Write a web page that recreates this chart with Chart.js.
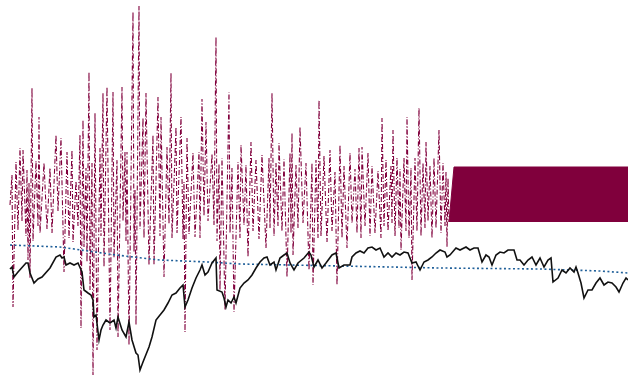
<!DOCTYPE html>
<html>
<head>
<meta charset="utf-8">
<script src="https://cdn.jsdelivr.net/npm/chart.js@4/dist/chart.umd.min.js"></script>
<style>
  html, body { margin: 0; padding: 0; background: #fff; }
  #wrap { width: 628px; height: 375px; }
</style>
</head>
<body>
<div id="wrap"><canvas id="c" width="628" height="375"></canvas></div>
<script>
// Time index (shared by all series) and levels.
const priceT = [5,6,7,9,13,14,15,17,19,21,25,28,30,31,32,33,35,37,39,41,42,44,45.5,46.5,47,48,49.5,50.5,51.5,53,55,57,58,59,61,63,64.5,66,68,69,70,71.5,74.5,76,78,80,82,84,86,88,90,91.5,92.5,94,96,98,100,101,102.5,104,106,108,108.5,111,112,113,114,115.5,117,118,120,122,124,126,128,130,132,133.5,135,137,138,140,142,143.5,145,147,149,152,154.5,155.5,157,159,161,163,166,168,169.5,172,175,176,178,180,182,184,186,188,190,192,194,196,198,200,202,204,206,208,210,212,214,216,218,220,222.5,223.5,225,228,230,233,235,237,239,241,243,244.5,246,248,250,252,254,257,258.5,260,262,264,266,268,270,272,274,275.5,276.5,279,281,283,285,287,288,289,290.5,292,294,296,298,300,302,304,306,308,309.5,311.5,313,314];
const priceV = [21.2,21.6,19.6,20.6,22.4,22.4,20.4,18.4,19.2,19.6,21.4,23.6,24,23.4,23.6,22,22.4,22,22.4,20.6,17,16.4,16,15,11.6,12,7,9,10,11,10.4,11,9.4,11.6,9,7.6,10.6,7,4.4,4,1,2.6,5.6,7.6,11,12,13,14.4,16,16.4,17.4,18,13.6,15,17.4,19.4,21,22,20,20.6,22.4,23.4,17,16.6,15.4,13.6,15,14.4,15.6,14.4,17.4,18.4,19,20,21.4,22.6,23.4,23.6,22,22.6,21,23.4,24,24.4,22.4,21,22.4,23.4,24.6,24,21.6,23,21.4,22.4,24,24.4,21.4,22,22,23.6,24.4,24.8,24.4,25.4,25.6,25,25.4,23.6,24.4,23.6,24.4,24,24.6,24.4,22.4,22.6,21,22.6,23,23.6,24.4,25,24.6,23.6,24,25.4,25,25.6,25,25.4,25.4,22.6,24,23.6,22,24,24.6,24.4,25,25,23,23,22,23,23.6,22,23.4,21.6,23,23.4,18.6,19.4,21,20.4,21.4,20.6,21.6,20.4,18.4,15.4,17,17,18.4,19.4,18,18.6,18.4,17.6,16.6,18.4,19.4,19];

// Long-run trend.
const trendT = [5,30,58,80,104,120,170,220,270,300,314];
const trendV = [26,25.6,24,23,22.6,22.2,21.8,21.4,21.2,20.8,20.4];

// Oscillating indicator.
const oscT = [
  5,6,6.5,8,9,10,11,11.5,13,13.5,14,14.5,15,16,16.5,18,19,19.5,20,22,23.5,25,26,28,29,30.5,32,33.5,34.5,36,
  36.5,38,39,40,40.5,41.5,42,43,43.5,44.5,45,46,46.5,47.5,48.5,50,50.5,51.5,52,53.5,55,56.5,57,58.5,59,61,61.5,62.5,63,63.5,
  64.5,66.5,67,67.5,68,69.5,70,71.5,72,73,74.5,
  76.5,77,79,80,80.5,82,83.5,84.5,85.5,86,88,88.5,90.5,91.5,92,92.5,93.5,94.5,96.5,97.5,99.5,100,101,102,103,
  104,106,107,108,108.5,109.5,110,111,112.5,114.5,115,116,117,119,120,120.5,122,123,124,125.5,126.5,128,129.5,131,133,
  134.5,135,136,137,138,139,139.5,141,142,143.5,145,145.5,146,146.5,148,149,
  150,151.5,153,154.5,156,156.5,158,159,159.5,160.5,162,163.5,165,166,167.5,168.5,170,171,172,173.5,
  175,176,177.5,178.5,179.5,180.5,181,182.5,184,185,186,187.5,189,190.5,191,192,193,194,195.5,196,
  196.5,197.5,198.5,199.5,200,200.5,202,203,203.5,204.5,205.5,206,207.5,208.5,209.5,210.5,211.5,212.5,213,214,
  215,216,217,218,219.5,220.5,221.5,222.5,223,223.5,224,224.5
];
const oscV = [
  34,40,13.6,42.6,29,45.4,30.8,45,27.8,41,23,38.4,19.4,57.4,26.8,42.8,29.8,51.6,28.4,42.4,29.2,41.4,28.4,48,32.8,47.4,20.6,44.6,27.4,45,
  26.6,38.8,29.8,48,9.4,51,25.6,41.4,22.6,60.6,17,42.4,-1,52.4,5,45.4,27.8,56.4,21.6,57.6,9,56.6,23.4,43,7.6,57.6,30.8,44.6,26.8,44.6,
  6,72.6,24.6,37,10,73.8,29.2,51.4,27.4,56.4,22,
  48,22,55.6,27.8,51.6,19.6,45.6,30.2,60.4,27.4,49.6,28.4,51.6,27.2,38.6,8.6,47.4,28.2,44.4,27.6,44.6,27.4,55.2,31.8,50.6,
  30.8,44.2,30,67.6,26.8,42.2,17,43.4,13,56.6,28.4,41.4,12.6,42.6,27.4,46,30,42,23.6,46.6,28.8,43,27.2,44,25.4,
  43.4,29.4,56.4,27.8,42.4,29.8,46.4,28.8,43.2,19.6,44.4,28.4,48.4,24,42,29.4,
  49.6,30.4,42.4,21,42.4,18,43,27.4,55,27.8,43.8,26.6,45,28.8,40.6,18,46,27.4,41.8,25.4,
  44.4,30.4,41.2,28.4,45.4,27.4,45.6,29.8,44.4,27.8,41.8,28.4,40.8,27.4,51.4,29.8,43,28.8,41.8,30.4,
  49,27.8,43.4,29.4,41.2,25,43.4,28.8,51.6,27.4,41.4,19,43.4,28.8,53.4,27.8,42.4,29.4,46.6,30.8,
  41.8,27.4,43.4,29.4,49,28.4,42.4,29.8,40.6,25.6,39.4,30.6
];

// Late-period envelope of the indicator: upper edge, filled down to the lower edge.
const bandT = [224.5,227,314];
const bandV = [30.6,41.6,41.6];
const bandLow = 30.6;

const MAROON = '#80003c';
const pts = (xs, ys) => xs.map((x, i) => ({ x, y: ys[i] }));

new Chart(document.getElementById('c'), {
  type: 'line',
  data: {
    datasets: [
      {
        data: pts(priceT, priceV),
        borderColor: '#111111',
        borderWidth: 1.6,
        order: 0
      },
      {
        data: pts(trendT, trendV),
        borderColor: '#1f5f99',
        borderWidth: 1.6,
        borderDash: [2, 2.5],
        order: 1
      },
      {
        data: pts(oscT, oscV),
        borderColor: MAROON,
        borderWidth: 1.1,
        borderDash: [5, 2, 1, 2],
        order: 2
      },
      {
        data: pts(bandT, bandV),
        borderColor: MAROON,
        borderWidth: 1,
        backgroundColor: MAROON,
        fill: { value: bandLow },
        order: 3
      }
    ]
  },
  options: {
    responsive: false,
    animation: false,
    events: [],
    layout: { padding: 0 },
    elements: {
      point: { radius: 0, hoverRadius: 0 },
      line: { tension: 0, fill: false }
    },
    scales: {
      x: { type: 'linear', min: 0, max: 314, display: false },
      y: { type: 'linear', min: 0, max: 75, display: false }
    },
    plugins: {
      legend: { display: false },
      tooltip: { enabled: false }
    }
  }
});
</script>
</body>
</html>
